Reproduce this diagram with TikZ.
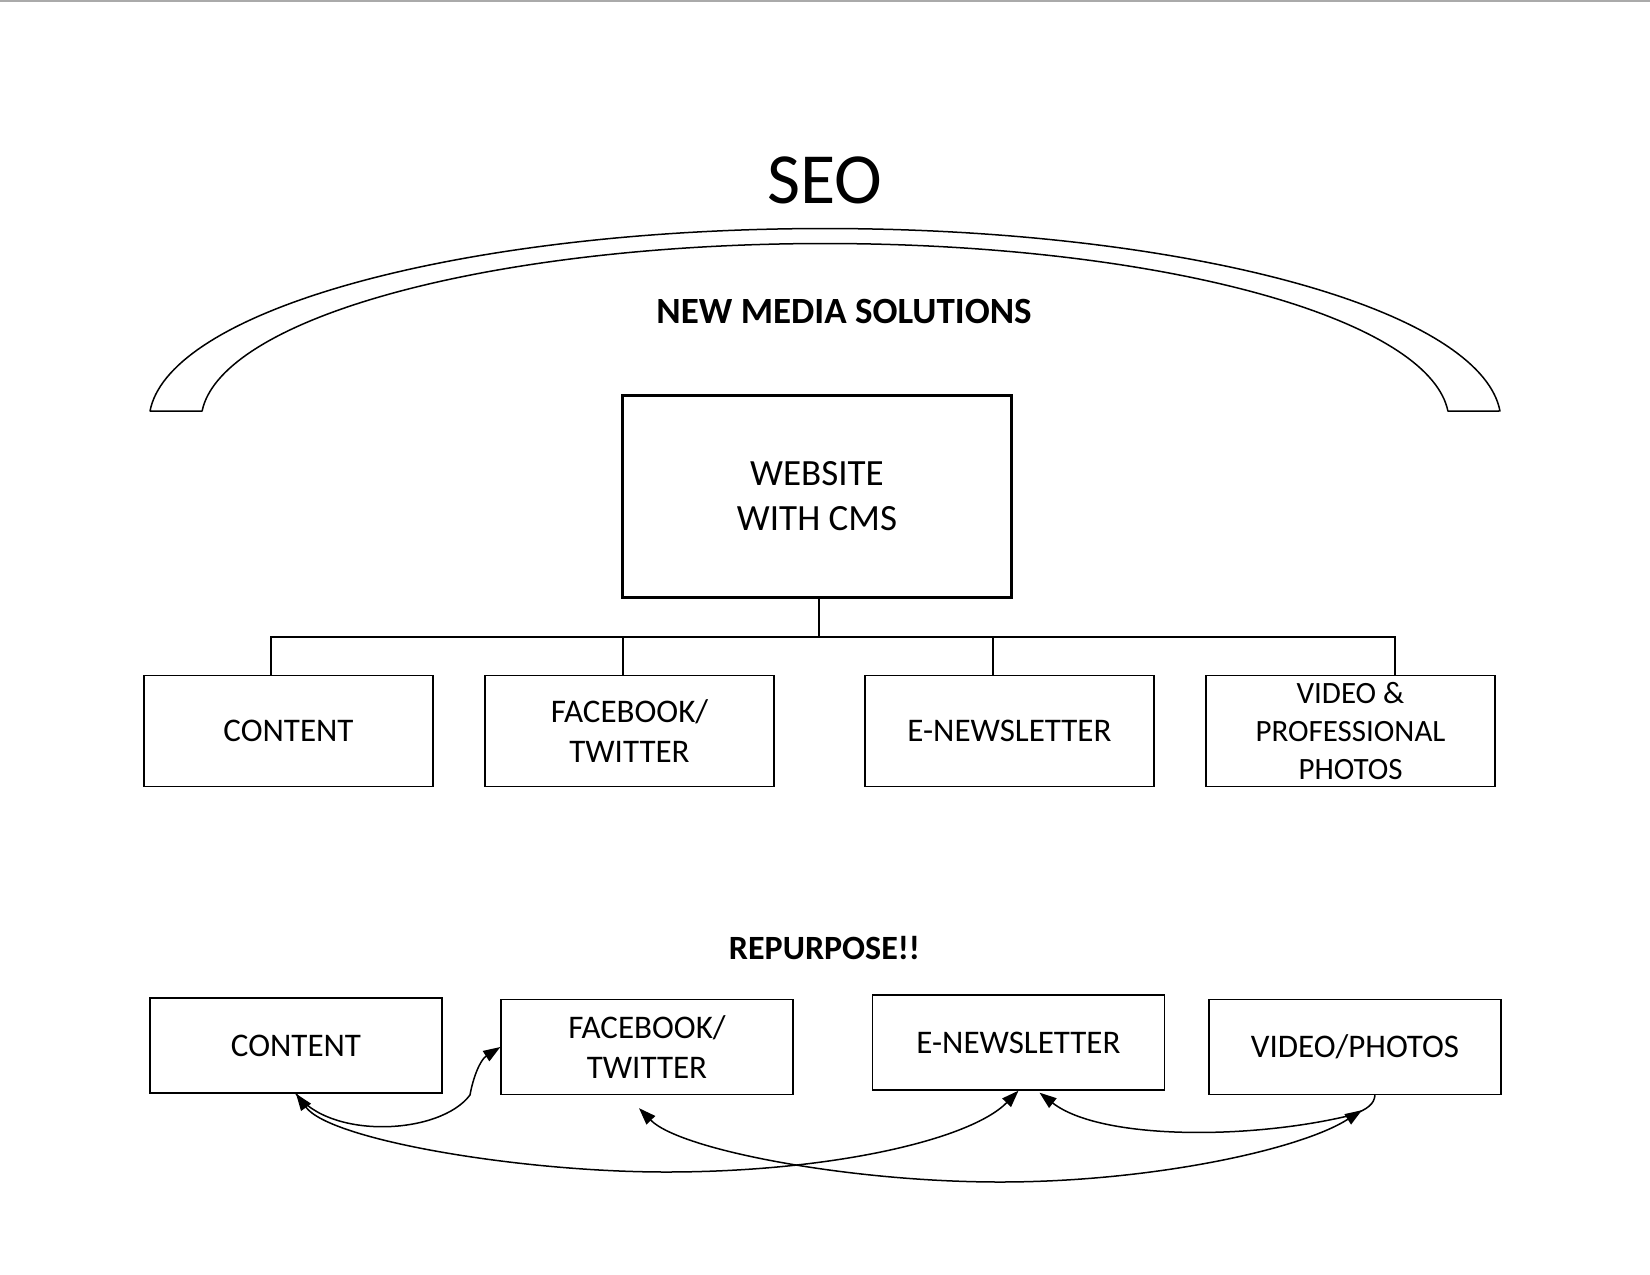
\documentclass[tikz,border=0pt]{standalone}
\usepackage{fontspec}
\setmainfont{Carlito}
\usetikzlibrary{arrows.meta,calc}
\definecolor{rulegray}{RGB}{170,170,170}
\begin{document}
\begin{tikzpicture}[x=1pt,y=-1pt,
  >={Triangle[length=17pt,width=12pt]},
  box/.style={draw, line width=1.3pt, rectangle, minimum width=289pt, minimum height=111pt,
    align=center, inner sep=0pt, font=\fontsize{33}{40}\selectfont},
  rbox/.style={box, minimum width=292pt, minimum height=95pt},
  conn/.style={line width=1.8pt},
  arr/.style={line width=1.5pt}]
\useasboundingbox (0,0) rectangle (1650,1275);
\fill[white] (0,0) rectangle (1650,1275);
\draw[rulegray, line width=1.5pt] (0,0.75) -- (1650,0.75);

% SEO arc band
\draw[line width=1.5pt, line join=round]
  plot[domain=176.88:3.12, samples=140] ({825+676*cos(\x)},{421.5-193*sin(\x)})
  -- plot[domain=3.38:176.62, samples=140] ({825+624*cos(\x)},{421.5-178*sin(\x)})
  -- cycle;

\node[font=\fontsize{72}{86}\selectfont] (seo) at (824.5,180) {SEO};
\node[font=\fontsize{37}{45}\selectfont\bfseries] (nms) at (844,311.5) {NEW MEDIA SOLUTIONS};

\node[draw, line width=3.3pt, minimum width=389pt, minimum height=202pt, align=center,
  inner sep=0pt, font=\fontsize{37}{45}\selectfont] (w) at (817,496.5) {WEBSITE\\WITH CMS};

% row 1
\node[box] (c1) at (288.5,731) {CONTENT};
\node[box] (f1) at (629.5,731) {FACEBOOK/\\TWITTER};
\node[box] (e1) at (1009.5,731) {E-NEWSLETTER};
\node[box, font=\fontsize{31}{38}\selectfont] (v1) at (1350.5,731) {VIDEO \&\\PROFESSIONAL\\PHOTOS};

% tree connectors
\coordinate (hub) at (819,637);
\draw[conn] (hub |- w.south) -- (hub);
\draw[conn] ([xshift=-17.5pt]c1.north) |- (hub);
\draw[conn] ([xshift=-6.5pt]f1.north) |- (hub);
\draw[conn] ([xshift=-16.5pt]e1.north) |- (hub);
\draw[conn] ([xshift=44.5pt]v1.north) |- (hub);

% row 2
\node[font=\fontsize{34}{41}\selectfont\bfseries] (rp) at (824.5,948.5) {REPURPOSE!!};
\node[rbox] (c2) at (296,1045.5) {CONTENT};
\node[rbox] (f2) at (647,1047) {FACEBOOK/\\TWITTER};
\node[rbox] (e2) at (1018.5,1042.5) {E-NEWSLETTER};
\node[rbox] (v2) at (1355,1047) {VIDEO/PHOTOS};

\coordinate (fbtip) at ($(f2.south)+(-8,13)$);
\coordinate (vtip) at ($(v2.south)+(7,15)$);
\coordinate (vstart) at ($(v2.south)+(20,0)$);
\coordinate (etip) at ($(e2.south)+(21,2)$);

% curved arrows
\draw[arr,->] (c2.south) .. controls (330,1140) and (440,1135) .. (470,1095)
  .. controls (473,1078) and (480,1060) .. (f2.west);
\draw[arr,<->] (c2.south) .. controls (330,1140) and (520,1172) .. (666,1172)
  .. controls (830,1172) and (970,1140) .. (e2.south);
\draw[arr,<->] (fbtip) .. controls (680,1150) and (850,1182) .. (1000,1182)
  .. controls (1150,1182) and (1300,1150) .. (vtip);
\draw[arr,->] (vstart) .. controls (1374,1104) and (1368,1109) .. (1352,1115)
  .. controls (1250,1140) and (1100,1140) .. (etip);
\end{tikzpicture}
\end{document}
